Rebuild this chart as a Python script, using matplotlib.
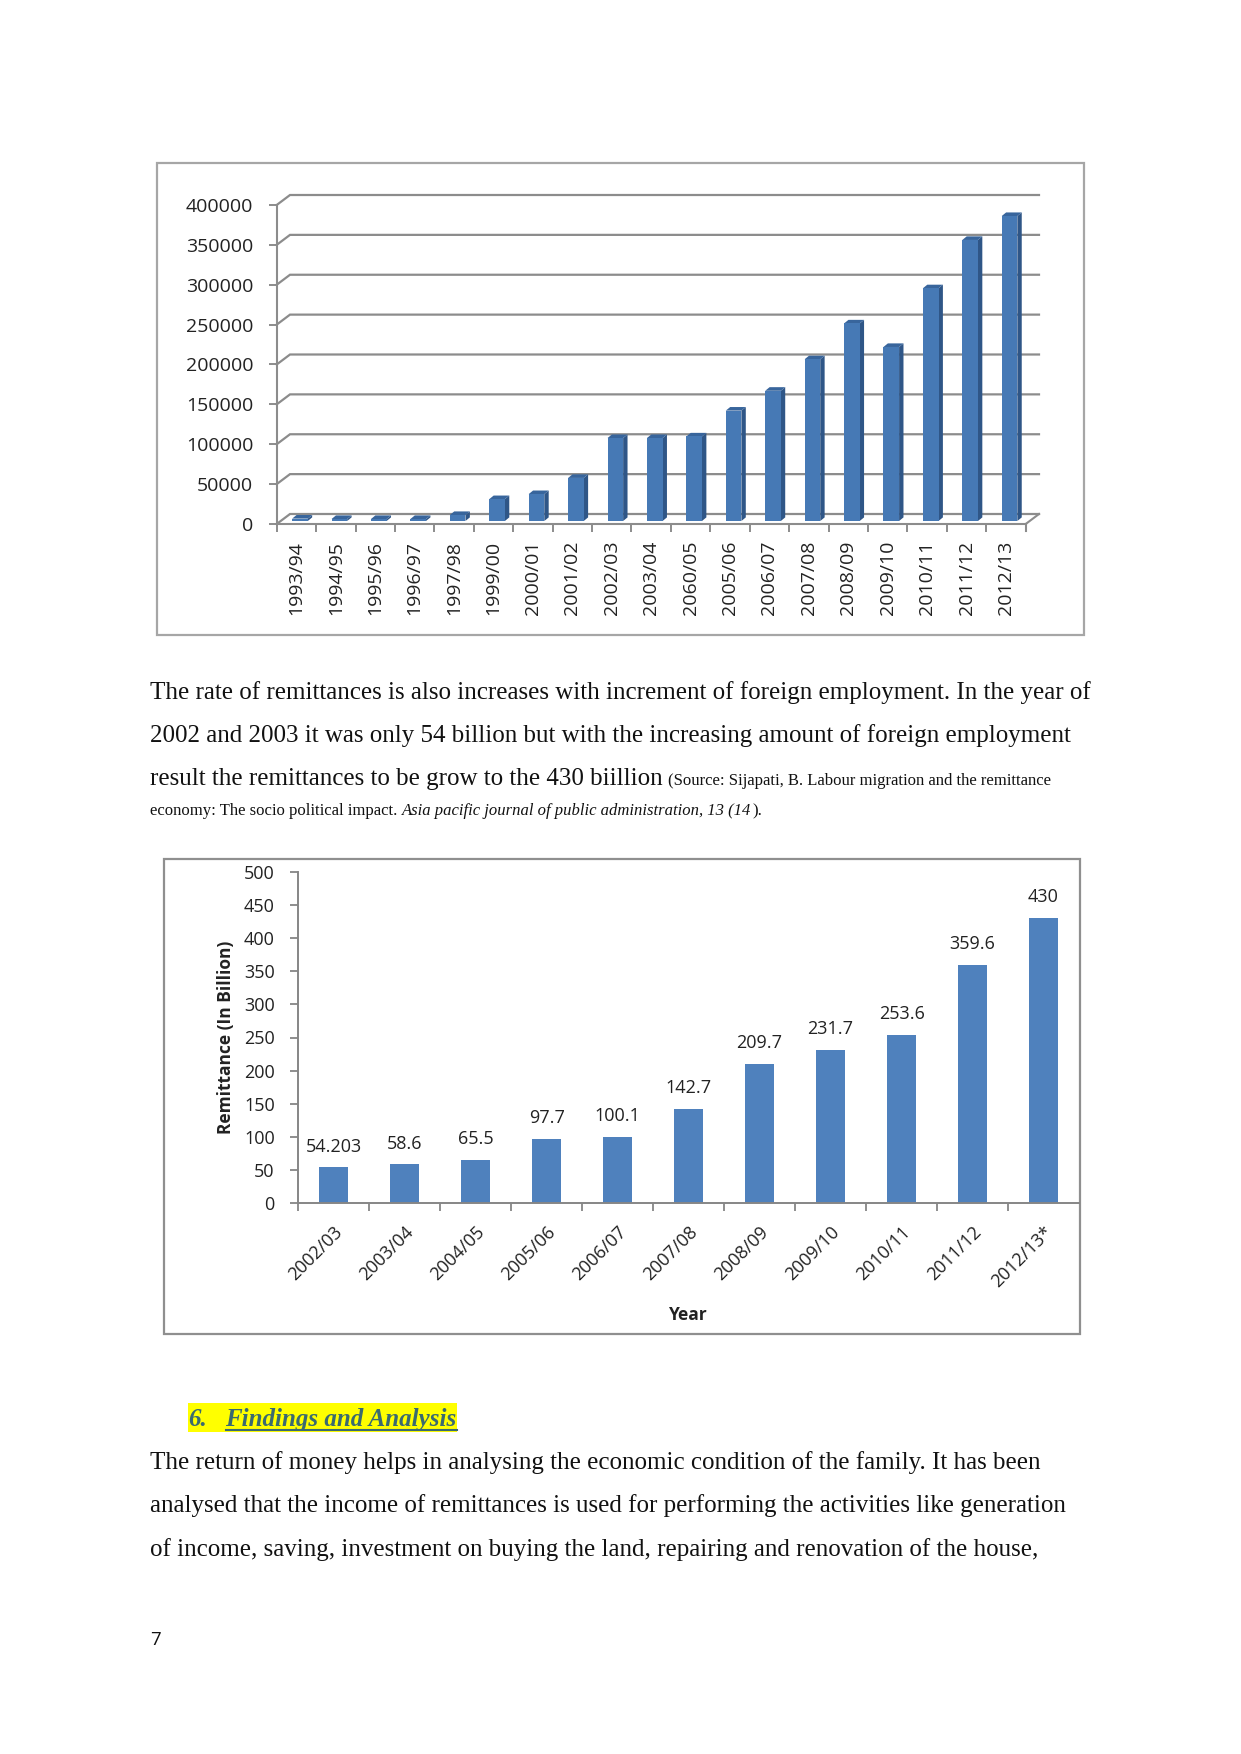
import matplotlib
matplotlib.use("Agg")
import matplotlib.pyplot as plt
from matplotlib.patches import Polygon, Rectangle

# first chart (3d columns)
years_a = ["1993/94", "1994/95", "1995/96", "1996/97", "1997/98", "1999/00", "2000/01",
           "2001/02", "2002/03", "2003/04", "2060/05", "2005/06", "2006/07", "2007/08",
           "2008/09", "2009/10", "2010/11", "2011/12", "2012/13"]
vals_a = [3000, 2500, 2500, 2500, 7500, 27400, 33700, 54000, 104000, 104000, 106000,
          138400, 163300, 202800, 247700, 218200, 291800, 352400, 382400]
ticks_a = [0, 50000, 100000, 150000, 200000, 250000, 300000, 350000, 400000]

# second chart
years_b = ["2002/03", "2003/04", "2004/05", "2005/06", "2006/07", "2007/08", "2008/09",
           "2009/10", "2010/11", "2011/12", "2012/13*"]
vals_b = [54.203, 58.6, 65.5, 97.7, 100.1, 142.7, 209.7, 231.7, 253.6, 359.6, 430]
ticks_b = [0, 50, 100, 150, 200, 250, 300, 350, 400, 450, 500]

W, H = 1241, 1754
SANS = "Open Sans"
SERIF = "Liberation Serif"
GREY = "#8c8c8c"


def axes_px(left, top, right, bottom):
    return fig.add_axes([left / W, 1 - bottom / H, (right - left) / W, (bottom - top) / H])


fig = plt.figure(figsize=(W / 100, H / 100), dpi=100)

# page layer, in pixels, for the frames and the text around the charts
page = fig.add_axes([0, 0, 1, 1])
page.set_xlim(0, W)
page.set_ylim(H, 0)
page.axis("off")
page.add_patch(Rectangle((157, 163), 927, 472, fc="white", ec="#a6a6a6", lw=1.6))
page.add_patch(Rectangle((163.5, 858.5), 916.5, 475.5, fc="white", ec="#8f8f8f", lw=1.6))


def txt(x, y, s, size=18, **kw):
    page.text(x, y, s, fontsize=size, family=SERIF, color="#111111", va="baseline", ha="left", **kw)


txt(150, 699, "The rate of remittances is also increases with increment of foreign employment. In the year of")
txt(150, 742, "2002 and 2003 it was only 54 billion but with the increasing amount of foreign employment")
txt(150, 785, "result the remittances to be grow to the 430 biillion")
txt(668, 785, "(Source: Sijapati, B. Labour migration and the remittance", size=12)
txt(150, 815, "economy: The socio political impact. ", size=12)
txt(402, 815, "Asia pacific journal of public administration, 13 (14", size=12, style="italic")
txt(752, 815, ").", size=12)

page.add_patch(Rectangle((188, 1403), 269, 29, fc="#ffff00", ec="none"))
txt(188, 1426, "6.", color=None, weight="bold", style="italic") if False else None
page.text(188, 1426, "6.", fontsize=18, family=SERIF, weight="bold", style="italic",
          color="#3a6a70", va="baseline")
page.text(225.5, 1426, "Findings and Analysis", fontsize=18, family=SERIF, weight="bold",
          style="italic", color="#3a6a70", va="baseline")
page.plot([225.5, 457], [1430, 1430], color="#3a6a70", lw=1.5)
txt(150, 1469, "The return of money helps in analysing the economic condition of the family. It has been")
txt(150, 1512, "analysed that the income of remittances is used for performing the activities like generation")
txt(150, 1556, "of income, saving, investment on buying the land, repairing and renovation of the house,")
page.text(150, 1645, "7", fontsize=13.5, family=SANS, color="#111111", va="baseline")

# chart 1
ax = axes_px(276.7, 205, 1025.7, 524)
ax.set_xlim(0, len(years_a))
ax.set_ylim(0, 400000)
ax.patch.set_alpha(0)
ax.spines["top"].set_visible(False)
ax.spines["right"].set_visible(False)
for s in ["left", "bottom"]:
    ax.spines[s].set_color(GREY)
    ax.spines[s].set_linewidth(1.5)

# depth of the fake 3d wall and of the columns, in data units
wall_x = 13.3 * len(years_a) / 749
wall_y = 10 * 400000 / 319
col_x = 4.4 * len(years_a) / 749
col_y = 3.6 * 400000 / 319
floor = 3 * 400000 / 319

for t in ticks_a:
    ax.plot([0, wall_x, len(years_a) + wall_x], [t, t + wall_y, t + wall_y],
            color=GREY, lw=1.6, clip_on=False, zorder=1, solid_joinstyle="miter")
ax.plot([len(years_a), len(years_a) + wall_x], [0, wall_y], color=GREY, lw=1.5, clip_on=False, zorder=1)
ax.plot([len(years_a), len(years_a)], [0, -7 * 400000 / 319], color=GREY, lw=1.5, clip_on=False)

w = 0.396
for i, v in enumerate(vals_a):
    x0 = i + 0.3 - 0.0
    x0 = i + 0.5 + 0.09 - w / 2
    x1 = x0 + w
    top = v + floor
    ax.add_patch(Polygon([(x1, floor), (x1 + col_x, floor + col_y), (x1 + col_x, top + col_y), (x1, top)],
                         fc="#2f5687", ec="none", zorder=3, clip_on=False))
    ax.add_patch(Polygon([(x0, top), (x0 + col_x, top + col_y), (x1 + col_x, top + col_y), (x1, top)],
                         fc="#38659c", ec="none", zorder=3, clip_on=False))
ax.bar([i + 0.59 for i in range(len(vals_a))], vals_a, width=w, bottom=floor, color="#4679b5",
       zorder=4, clip_on=False)

ax.set_yticks(ticks_a)
ax.set_yticklabels([str(t) for t in ticks_a], fontsize=14, family=SANS, color="#222222")
ax.set_xticks(range(len(years_a) + 1))
ax.set_xticks([i + 0.5 for i in range(len(years_a))], minor=True)
ax.set_xticklabels([""] * (len(years_a) + 1))
ax.set_xticklabels(years_a, minor=True, rotation=90, fontsize=14, family=SANS, color="#222222")
ax.tick_params(axis="x", which="minor", length=0, pad=12)
ax.tick_params(axis="x", which="major", length=5.5, width=1.4, color=GREY)
ax.tick_params(axis="y", length=6, width=1.4, color=GREY, pad=11)

# chart 2
bx = axes_px(298.3, 871.7, 1079, 1203.3)
bx.set_xlim(0, len(years_b))
bx.set_ylim(0, 500)
bx.patch.set_alpha(0)
bx.spines["top"].set_visible(False)
bx.spines["right"].set_visible(False)
for s in ["left", "bottom"]:
    bx.spines[s].set_color("#868686")
    bx.spines[s].set_linewidth(1.4)
pos = [i + 0.5 for i in range(len(years_b))]
bx.bar(pos, vals_b, width=0.41, color="#4f81bd")
for p, v in zip(pos, vals_b):
    bx.annotate(f"{v:g}", (p, v), xytext=(0, 15), textcoords="offset points", ha="center", va="center",
                fontsize=13, family=SANS, color="#222222")
bx.set_yticks(ticks_b)
bx.set_yticklabels([str(t) for t in ticks_b], fontsize=13, family=SANS, color="#222222")
bx.set_xticks(range(len(years_b)))
bx.set_xticks(pos, minor=True)
bx.set_xticklabels([""] * len(years_b))
bx.set_xticklabels(years_b, minor=True, rotation=45, ha="right", rotation_mode="anchor", fontsize=13,
                   family=SANS, color="#222222")
bx.tick_params(axis="x", which="minor", length=0, pad=14)
bx.tick_params(axis="x", which="major", length=5.5, width=1.3, color="#868686")
bx.tick_params(axis="y", length=6, width=1.3, color="#868686", pad=11)
page.text(226.5, 1037, "Remittance (In Billion)", rotation=90, ha="center", va="center", fontsize=12.5,
          family=SANS, weight="bold", color="#222222")
page.text(688, 1315, "Year", ha="center", va="center", fontsize=12.5, family=SANS, weight="bold", color="#222222")

fig.savefig("out.png", dpi=100)
